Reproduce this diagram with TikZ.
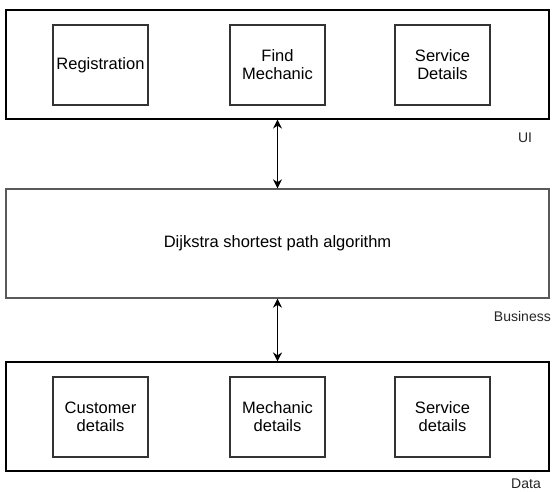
\documentclass[tikz,border=0pt]{standalone}
\usepackage{fontspec}
\setmainfont{Liberation Sans}
\usetikzlibrary{arrows.meta}
\begin{document}
\begin{tikzpicture}[x=1pt,y=-1pt,
  layer/.style={draw=black,line width=1.1pt,minimum width=543pt,minimum height=109pt,inner sep=0pt},
  bizbox/.style={draw=black!65,line width=1.4pt,minimum width=543pt,minimum height=109pt,inner sep=0pt,font=\fontsize{16.5}{18}\selectfont},
  comp/.style={draw=black!80,line width=1.4pt,minimum width=95pt,minimum height=80pt,inner sep=0pt,align=center,font=\fontsize{16.5}{18}\selectfont},
  lbl/.style={inner sep=0pt,font=\fontsize{14}{16}\selectfont,text=black!85},
  link/.style={line width=1.1pt,{Stealth[length=9pt,width=9pt]}-{Stealth[length=9pt,width=9pt]}}]
\useasboundingbox[fill=white] (0,0) rectangle (552,491);
% UI layer
\node[layer] (ui) at (277.5,64.5) {};
\node[comp] (reg) at (100.5,65) {Registration};
\node[comp] (find) at (277.5,65) {Find\\Mechanic};
\node[comp] (serv) at (442.5,65) {Service\\Details};
\node[lbl] (uil) at (525,138) {UI};
% Business layer
\node[bizbox] (biz) at (277.5,243.5) {Dijkstra shortest path algorithm};
\node[lbl,anchor=east] (bizl) at (551,316) {Business};
% Data layer
\node[layer] (data) at (277.5,416.5) {};
\node[comp] (cust) at (100.5,417) {Customer\\details};
\node[comp] (mech) at (277.5,417) {Mechanic\\details};
\node[comp] (sdet) at (442.5,417) {Service\\details};
\node[lbl] (datal) at (526,484) {Data};
% connectors
\draw[link] (ui.south) -- (biz.north);
\draw[link] (biz.south) -- (data.north);
\end{tikzpicture}
\end{document}
